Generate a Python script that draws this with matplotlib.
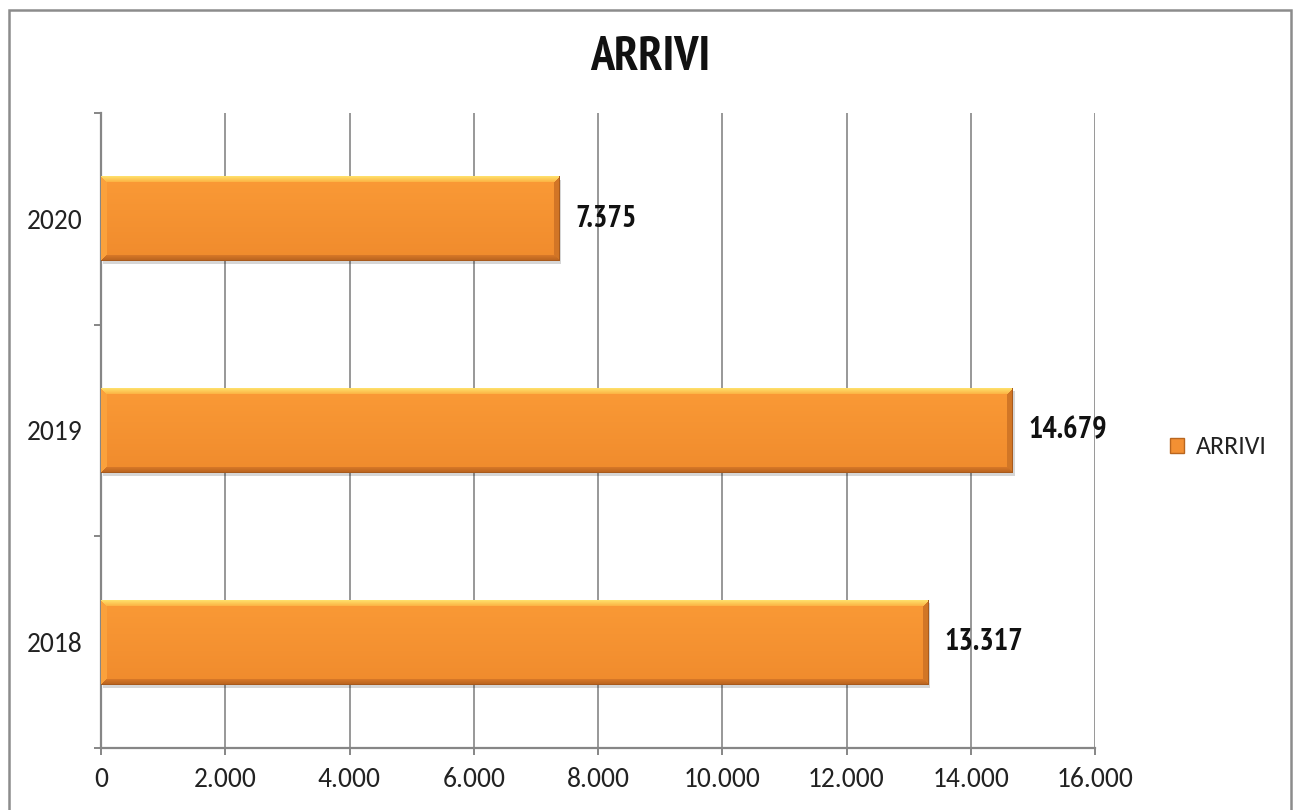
import numpy as np
import matplotlib
matplotlib.use("Agg")
import matplotlib.pyplot as plt
from matplotlib.patches import Rectangle, Patch
from matplotlib import transforms
from matplotlib.ticker import FuncFormatter, MultipleLocator
from matplotlib import font_manager as fm

# ---- data ----
years = ["2018", "2019", "2020"]
arrivi = [13317, 14679, 7375]
title = "ARRIVI"
series_name = "ARRIVI"
x_max = 16000
x_step = 2000

names = {f.name for f in fm.fontManager.ttflist}


def pick(cands):
    for c in cands:
        if c in names:
            return c
    return "DejaVu Sans"


narrow = pick(["Liberation Sans Narrow", "Arial Narrow", "PT Sans Narrow", "Roboto Condensed",
               "Archivo Narrow", "Sofia Sans Condensed", "Open Sans Condensed", "DejaVu Sans"])
body = pick(["Carlito", "Calibri", "Lato", "Open Sans", "DejaVu Sans"])

W, H = 1295, 810
fig = plt.figure(figsize=(W / 100, H / 100), dpi=100)
ax = fig.add_axes([101 / W, 1 - 748 / H, (1095 - 101) / W, (748 - 113) / H])
renderer = fig.canvas.get_renderer()


def fit(txt, target_px):
    w = txt.get_window_extent(renderer).width
    if w > 0:
        txt.set_fontsize(txt.get_fontsize() * target_px / w)


grid_c = "#868686"
ax.set_xlim(0, x_max)
ax.set_ylim(-0.5, len(years) - 0.5)
ax.xaxis.set_major_locator(MultipleLocator(x_step))
ax.xaxis.set_major_formatter(FuncFormatter(lambda v, p: f"{int(v):,}".replace(",", ".")))
ax.grid(axis="x", color=grid_c, linewidth=1.2, zorder=0)
ax.set_axisbelow(True)
for s in ["top", "right"]:
    ax.spines[s].set_visible(False)
for s in ["left", "bottom"]:
    ax.spines[s].set_color(grid_c)
    ax.spines[s].set_linewidth(1.6)

ypos = np.arange(len(years))
ax.set_yticks(ypos)
ax.set_yticklabels(years)
ax.set_yticks(np.arange(-0.5, len(years), 1.0), minor=True)

probe = fig.text(0, 0, years[0], family=body, fontsize=15)
fit(probe, 56)
tick_fs = probe.get_fontsize()
probe.remove()

ax.tick_params(axis="y", which="major", length=0, pad=13, labelsize=tick_fs, labelcolor="#222222")
ax.tick_params(axis="y", which="minor", length=5, width=1.4, color=grid_c)
ax.tick_params(axis="x", which="major", length=5, width=1.4, color=grid_c, pad=9,
               labelsize=tick_fs, labelcolor="#222222")
for lab in ax.get_xticklabels() + ax.get_yticklabels():
    lab.set_fontfamily(body)

bar_h = 0.40
bars = ax.barh(ypos, arrivi, height=bar_h, color="none", edgecolor="none", zorder=3)


def hexrgb(h):
    h = h.lstrip("#")
    return np.array([int(h[i:i + 2], 16) / 255 for i in (0, 2, 4)])


top_c1, top_c2 = hexrgb("#FFDF6A"), hexrgb("#FCAE40")
left_c = hexrgb("#FBA23C")
right_c = hexrgb("#D27626")
bot_c1, bot_c2 = hexrgb("#DB7A29"), hexrgb("#B8631F")
in_top, in_bot = hexrgb("#FA9A36"), hexrgb("#F08B2D")
edge_c = hexrgb("#A85A1C")

px_per_x = ax.transData.transform((1, 0))[0] - ax.transData.transform((0, 0))[0]
px_per_y = ax.transData.transform((0, 1))[1] - ax.transData.transform((0, 0))[1]

probe = fig.text(0, 0, "14.679", family=narrow, fontweight="bold", fontsize=22)
fit(probe, 78)
val_fs = probe.get_fontsize()
probe.remove()

shadow_tr = transforms.offset_copy(ax.transData, fig=fig, x=2, y=-3, units="dots")
label_tr = transforms.offset_copy(ax.transData, fig=fig, x=16, y=0, units="dots")
for rect, val in zip(bars, arrivi):
    x0, y0 = rect.get_x(), rect.get_y()
    w, h = rect.get_width(), rect.get_height()
    ax.add_patch(Rectangle((x0, y0), w, h, transform=shadow_tr, facecolor="#000000",
                           alpha=0.16, edgecolor="none", zorder=2.5))
    nx = max(int(round(w * px_per_x)), 2)
    ny = max(int(round(h * px_per_y)), 2)
    yy, xx = np.mgrid[0:ny, 0:nx]
    b = 6.0
    dt, db, dl, dr = yy, ny - 1 - yy, xx, nx - 1 - xx
    t = (yy / (ny - 1))[..., None]
    img = in_top * (1 - t) + in_bot * t
    dmin = np.minimum(np.minimum(dt, db), np.minimum(dl, dr))
    mask_t = (dt == dmin) & (dt < b)
    mask_b = (db == dmin) & (db < b) & ~mask_t
    mask_l = (dl == dmin) & (dl < b) & ~mask_t & ~mask_b
    mask_r = (dr == dmin) & (dr < b) & ~mask_t & ~mask_b & ~mask_l
    ft = (dt / b)[..., None]
    fb = (db / b)[..., None]
    img = np.where(mask_t[..., None], top_c1 * (1 - ft) + top_c2 * ft, img)
    img = np.where(mask_b[..., None], bot_c2 * (1 - fb) + bot_c1 * fb, img)
    img = np.where(mask_l[..., None], left_c, img)
    img = np.where(mask_r[..., None], right_c, img)
    img[-1, :] = edge_c
    img[:, -1] = edge_c
    ax.imshow(img, extent=(x0, x0 + w, y0, y0 + h), origin="upper", aspect="auto",
              interpolation="bilinear", zorder=3.5)
    ax.text(x0 + w, y0 + h / 2, f"{val:,}".replace(",", "."), transform=label_tr,
            ha="left", va="center", fontsize=val_fs, fontweight="bold", family=narrow,
            color="#111111", zorder=5)

ax.set_xlim(0, x_max)
ax.set_ylim(-0.5, len(years) - 0.5)

ttl = fig.text(650 / W, 1 - 58 / H, title, ha="center", va="center", fontsize=30,
               fontweight="bold", family=narrow, color="#111111")
fit(ttl, 120)

# legend text size calibrated before building legend
probe = fig.text(0, 0, series_name, family=body, fontsize=15)
fit(probe, 71)
leg_fs = probe.get_fontsize()
probe.remove()

handle = Patch(facecolor="#F39033", edgecolor="#B9661F", linewidth=1.0)
leg = fig.legend([handle], [series_name], loc="center left",
                 bbox_to_anchor=(1162 / W, 1 - 447 / H), frameon=False,
                 handlelength=0.55, handleheight=0.55, handletextpad=0.45,
                 borderaxespad=0, borderpad=0.3,
                 prop={"family": body, "size": leg_fs})
for txt in leg.get_texts():
    txt.set_color("#222222")

fig.add_artist(Rectangle((8.5 / W, -0.02), (1291 - 8.5) / W, 1 - 9.5 / H + 0.02,
                         transform=fig.transFigure, facecolor="none",
                         edgecolor="#8C8C8C", linewidth=1.8))

fig.savefig("out.png", dpi=100)
